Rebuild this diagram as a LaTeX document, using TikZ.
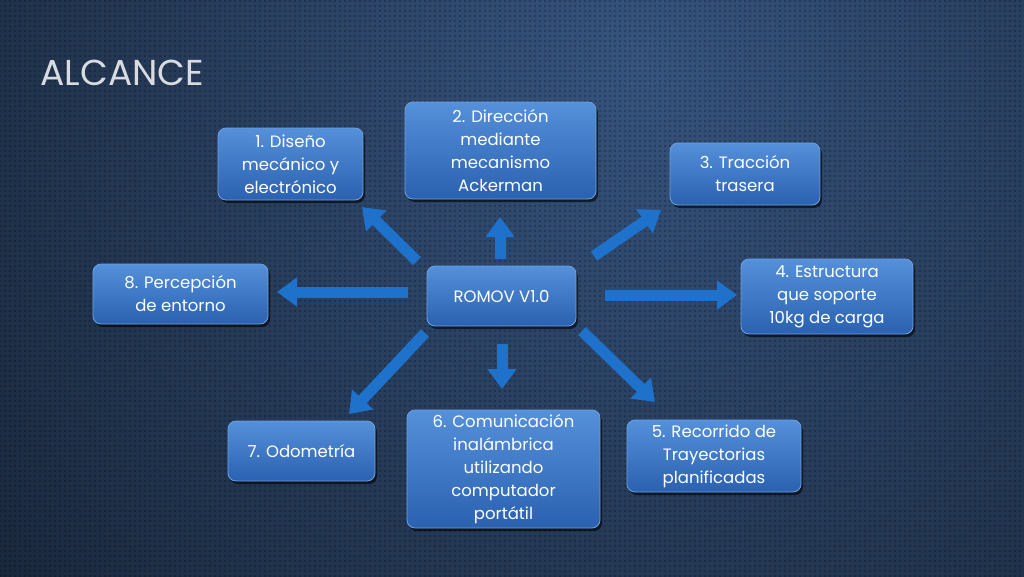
\documentclass[tikz,border=0pt]{standalone}
\usepackage{fontspec}
\setmainfont{Poppins}
\usetikzlibrary{arrows.meta,shadows,patterns.meta}
\definecolor{bginner}{HTML}{36547E}
\definecolor{bgouter}{HTML}{080C12}
\definecolor{boxtop}{HTML}{5590DA}
\definecolor{boxbot}{HTML}{2A61B0}
\definecolor{boxline}{HTML}{6FA2E2}
\definecolor{arrowblue}{HTML}{1F72CC}
\definecolor{titlegray}{HTML}{D8DCE2}
\tikzdeclarepattern{
  name=bgdots, type=uncolored,
  bounding box={(-2.5pt,-2.5pt) and (2.5pt,2.5pt)},
  tile size={(5pt,5pt)},
  code={\fill (0,0) circle (1.1pt);}
}
\tikzset{
  box/.style={rounded corners=8pt, draw=boxline, line width=0.8pt,
    top color=boxtop, bottom color=boxbot, text=white, align=center,
    inner sep=0pt, font=\fontsize{16.5}{23}\selectfont,
    drop shadow={shadow xshift=2pt, shadow yshift=-3pt, opacity=0.6, fill=black}},
  blockarrow/.style={draw=arrowblue, line width=11pt,
    -{Triangle[length=20pt,width=28pt]}},
}
\begin{document}
\begin{tikzpicture}[x=1pt,y=-1pt]
\useasboundingbox (0,0) rectangle (1024,576);
\fill[bgouter] (0,0) rectangle (1024,576);
\begin{scope}
\clip (0,0) rectangle (1024,576);
\shade[inner color=bginner, outer color=bgouter] (640,60) circle (1350);
\fill[pattern=bgdots, pattern color=black, opacity=0.3] (0,0) rectangle (1024,576);
\end{scope}
\node[anchor=west, text=titlegray, font=\fontsize{36}{40}\selectfont] (title) at (37,73) {ALCANCE};

\node[box, minimum width=149pt, minimum height=60pt] (c) at (501.5,296) {ROMOV V1.0};
\node[box, minimum width=145pt, minimum height=72pt] (n1) at (290.5,164) {1. Diseño\\mecánico y\\electrónico};
\node[box, minimum width=191pt, minimum height=97pt] (n2) at (500.5,150.5) {2. Dirección\\mediante\\mecanismo\\Ackerman};
\node[box, minimum width=150pt, minimum height=62pt] (n3) at (745,174) {3. Tracción\\trasera};
\node[box, minimum width=172pt, minimum height=75pt] (n4) at (827,296.5) {4. Estructura\\que soporte\\10kg de carga};
\node[box, minimum width=174pt, minimum height=72pt] (n5) at (714,456) {5. Recorrido de\\Trayectorias\\planificadas};
\node[box, minimum width=193pt, minimum height=118pt] (n6) at (503.5,469) {6. Comunicación\\inalámbrica\\utilizando\\computador\\portátil};
\node[box, minimum width=147pt, minimum height=60pt] (n7) at (301.5,451) {7. Odometría};
\node[box, minimum width=175pt, minimum height=60pt] (n8) at (180.5,294) {8. Percepción\\de entorno};

\coordinate (a1s) at (417,261); \coordinate (a1e) at (362,207);
\coordinate (a2s) at (500,259); \coordinate (a2e) at (500,217);
\coordinate (a3s) at (594,256); \coordinate (a3e) at (661,210);
\coordinate (a4s) at (605,295); \coordinate (a4e) at (737,295);
\coordinate (a5s) at (582,331); \coordinate (a5e) at (655,402);
\coordinate (a6s) at (502,344); \coordinate (a6e) at (502,389);
\coordinate (a7s) at (425,333); \coordinate (a7e) at (349,414);
\coordinate (a8s) at (408,292); \coordinate (a8e) at (277,292);
\foreach \i in {1,...,8} \draw[blockarrow] (a\i s) -- (a\i e);
\end{tikzpicture}
\end{document}
